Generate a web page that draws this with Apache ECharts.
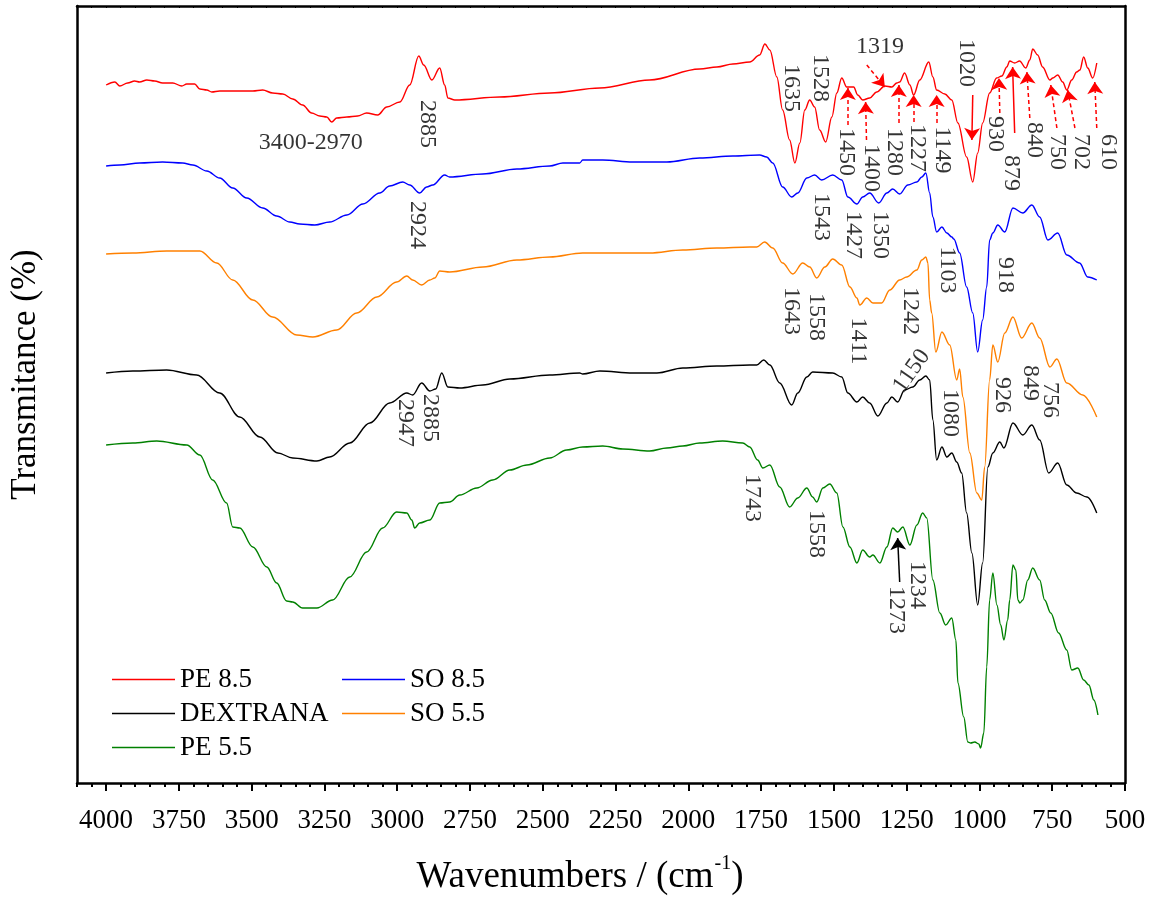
<!DOCTYPE html>
<html>
<head>
<meta charset="utf-8">
<script src="https://cdn.jsdelivr.net/npm/echarts@6/dist/echarts.min.js"></script>
<style>
html,body{margin:0;padding:0;background:#fff;}
#chart{width:1159px;height:897px;}
</style>
</head>
<body>
<div id="chart"></div>
<script>
// FTIR spectra, stacked with vertical offsets: [wavenumber (cm-1), transmittance (a.u.)]
const pe85 = [[4000,69.8],[3970,70.1],[3953,69.7],[3926,70.0],[3902,70.2],[3885,70.1],[3860,70.3],[3833,70.2],[3806,70.0],[3771,70.0],[3740,69.7],[3723,69.9],[3696,69.9],[3678,69.4],[3654,69.3],[3637,69.1],[3610,69.2],[3575,69.2],[3541,69.2],[3496,69.2],[3462,69.3],[3428,69.0],[3393,68.9],[3359,68.4],[3325,67.8],[3294,67.0],[3266,66.7],[3242,66.6],[3225,66.1],[3208,66.5],[3173,66.6],[3136,66.7],[3105,67.0],[3067,66.8],[3036,67.6],[2991,68.1],[2957,69.8],[2926,72.7],[2909,71.8],[2881,70.3],[2854,71.5],[2837,69.8],[2826,68.5],[2802,68.3],[2648,68.6],[2476,69.0],[2304,69.5],[2133,70.3],[1961,71.4],[1902,71.6],[1847,71.9],[1789,72.1],[1755,72.8],[1737,73.9],[1720,73.3],[1696,70.6],[1676,67.3],[1652,64.3],[1634,62.0],[1617,64.0],[1600,67.3],[1583,68.3],[1566,67.6],[1549,65.3],[1528,64.1],[1507,66.6],[1490,69.0],[1473,70.5],[1456,69.6],[1432,69.6],[1418,68.8],[1401,68.3],[1377,68.5],[1353,69.1],[1325,69.7],[1301,69.6],[1284,70.0],[1274,70.1],[1257,71.0],[1239,69.8],[1226,68.8],[1205,70.3],[1174,72.1],[1160,70.6],[1147,69.3],[1119,68.9],[1095,68.3],[1074,66.0],[1044,62.6],[1023,60.1],[1006,63.0],[989,66.0],[965,69.0],[941,70.5],[923,70.7],[906,71.6],[896,72.2],[879,72.0],[862,72.2],[841,71.5],[827,72.3],[817,73.4],[800,72.8],[783,71.6],[758,70.3],[748,70.5],[731,70.8],[714,70.1],[700,69.3],[683,70.3],[666,71.1],[655,71.3],[642,72.6],[628,71.5],[611,70.5],[597,72.0]];

const so85 = [[4000,61.7],[3953,61.8],[3885,62.0],[3806,62.1],[3737,62.0],[3702,61.8],[3654,61.2],[3610,60.5],[3565,59.5],[3517,58.5],[3462,57.5],[3414,56.7],[3369,56.1],[3335,55.9],[3283,55.8],[3232,56.1],[3173,56.8],[3118,57.9],[3060,59.0],[3026,59.7],[2981,60.1],[2957,59.8],[2923,59.0],[2899,59.6],[2878,59.8],[2837,60.8],[2820,60.6],[2706,60.9],[2589,61.4],[2476,61.7],[2431,62.0],[2373,62.0],[2363,62.3],[2294,62.3],[2191,62.1],[2074,62.1],[1961,62.5],[1847,62.7],[1755,62.8],[1731,62.6],[1710,62.0],[1676,59.6],[1645,58.6],[1624,59.0],[1593,60.5],[1566,60.8],[1542,60.3],[1504,60.8],[1473,60.3],[1452,58.6],[1421,57.9],[1401,58.6],[1377,59.0],[1346,58.0],[1318,59.0],[1298,59.4],[1274,58.9],[1246,59.8],[1215,60.1],[1198,60.6],[1184,61.0],[1171,59.0],[1160,56.6],[1147,55.1],[1129,55.6],[1112,55.0],[1095,54.6],[1088,54.4],[1068,53.0],[1044,49.6],[1023,47.0],[1006,43.1],[989,46.3],[975,49.6],[965,54.3],[954,55.0],[937,55.8],[913,55.1],[885,57.5],[851,57.0],[820,57.8],[793,56.6],[765,54.3],[731,55.0],[700,52.8],[656,52.0],[628,50.6],[597,50.3]];

const so55 = [[4000,52.9],[3908,53.0],[3792,53.2],[3678,53.2],[3620,52.0],[3565,50.3],[3496,48.3],[3428,46.6],[3345,44.8],[3290,44.6],[3208,45.3],[3139,47.0],[3070,48.6],[3002,50.1],[2967,50.7],[2947,50.3],[2916,49.8],[2888,50.3],[2871,50.5],[2854,51.2],[2820,51.1],[2706,51.6],[2589,52.3],[2476,52.6],[2363,53.0],[2246,53.0],[2133,53.0],[2019,53.3],[1902,53.5],[1789,53.6],[1765,53.6],[1738,54.1],[1710,53.5],[1676,52.0],[1641,50.9],[1607,52.0],[1583,51.6],[1559,50.5],[1531,51.6],[1504,52.4],[1473,51.8],[1445,49.6],[1421,48.5],[1411,47.8],[1387,48.5],[1366,48.0],[1336,48.0],[1308,49.3],[1274,50.3],[1250,50.6],[1215,51.3],[1198,52.3],[1184,52.6],[1177,52.0],[1171,48.3],[1164,47.0],[1150,43.1],[1129,45.1],[1102,43.8],[1078,40.3],[1068,41.4],[1057,38.6],[1033,33.0],[1009,29.0],[992,28.3],[982,31.6],[965,40.3],[954,43.8],[937,42.1],[913,45.0],[885,46.6],[855,44.5],[820,46.0],[793,44.5],[758,41.6],[734,42.4],[700,40.0],[645,38.8],[597,36.6]];

const dextrana = [[4000,41.0],[3908,41.2],[3792,41.3],[3689,40.8],[3610,39.0],[3541,36.6],[3472,34.6],[3410,33.0],[3359,32.5],[3276,32.2],[3232,32.6],[3163,34.0],[3094,36.0],[3026,38.0],[2967,39.0],[2947,38.8],[2916,40.0],[2888,39.2],[2868,39.4],[2847,41.0],[2826,39.6],[2785,39.5],[2706,39.8],[2613,40.4],[2476,40.8],[2373,41.0],[2363,40.9],[2304,41.2],[2191,41.0],[2108,41.0],[2019,41.5],[1902,41.7],[1789,41.8],[1765,41.8],[1741,42.3],[1720,41.8],[1686,40.0],[1645,37.8],[1624,39.0],[1593,40.6],[1573,41.1],[1504,41.0],[1473,40.6],[1452,39.0],[1421,38.1],[1401,38.6],[1377,38.0],[1349,36.7],[1318,38.0],[1301,38.6],[1281,38.1],[1257,39.3],[1229,39.6],[1205,40.3],[1184,40.7],[1171,40.3],[1160,36.3],[1147,32.3],[1129,33.6],[1112,32.6],[1095,33.0],[1078,32.1],[1061,31.0],[1044,27.0],[1026,23.0],[1006,17.8],[989,22.0],[971,31.6],[954,33.0],[930,34.1],[916,33.5],[885,36.0],[851,34.8],[820,35.8],[793,34.3],[762,31.0],[731,32.0],[700,29.8],[666,29.0],[631,28.6],[597,27.0]];

const pe55 = [[4000,33.8],[3908,34.0],[3826,34.2],[3723,33.8],[3678,32.8],[3634,30.3],[3586,28.0],[3565,25.6],[3541,25.5],[3496,23.6],[3448,21.6],[3414,20.0],[3380,18.2],[3359,18.1],[3325,17.5],[3276,17.5],[3222,18.3],[3163,20.6],[3105,23.1],[3050,25.5],[3002,27.1],[2967,27.0],[2950,26.3],[2940,25.5],[2923,26.0],[2888,26.3],[2854,28.0],[2820,28.1],[2785,28.8],[2727,29.5],[2672,30.3],[2613,31.3],[2555,31.8],[2476,32.5],[2418,33.3],[2363,33.6],[2294,33.7],[2225,33.4],[2133,33.2],[2074,33.5],[2019,33.7],[1961,34.0],[1882,34.2],[1813,34.0],[1789,33.6],[1762,32.3],[1744,31.5],[1720,31.8],[1686,29.6],[1652,27.6],[1624,28.5],[1593,29.5],[1573,28.6],[1559,28.1],[1538,29.5],[1514,29.9],[1490,29.0],[1469,25.6],[1445,23.6],[1421,22.0],[1401,23.3],[1377,22.6],[1366,22.8],[1342,22.0],[1318,23.6],[1298,25.5],[1281,25.1],[1263,25.6],[1239,23.8],[1215,25.8],[1195,27.0],[1181,26.5],[1160,20.3],[1136,17.0],[1116,15.8],[1095,16.5],[1081,14.3],[1074,10.0],[1054,6.6],[1040,4.1],[1030,4.0],[1016,4.1],[1002,3.9],[996,3.5],[985,5.0],[975,11.6],[965,18.3],[954,21.0],[940,17.8],[927,15.8],[916,14.3],[903,16.3],[896,18.3],[885,21.8],[875,21.3],[868,18.3],[861,18.0],[851,18.3],[834,20.3],[817,21.5],[793,20.3],[776,18.3],[755,17.0],[728,15.0],[700,13.3],[683,11.3],[662,11.5],[642,10.3],[624,9.8],[607,8.3],[593,6.8]];

const seriesNames = ['PE 8.5', 'SO 8.5', 'SO 5.5', 'DEXTRANA', 'PE 5.5'];
const seriesColors = ['#ff0000', '#0000ff', '#ff8000', '#000000', '#008000'];
const seriesData = [pe85, so85, so55, dextrana, pe55];

const majorTicks = [4000, 3750, 3500, 3250, 3000, 2750, 2500, 2250, 2000, 1750, 1500, 1250, 1000, 750, 500];

// Band assignments: [wavenumber, level, text, rotation]
const peakLabels = [
  [3297, 64.0, '3400-2970', 0], [2895, 65.9, '2885', -90],
  [1645, 69.5, '1635', -90], [1545, 70.5, '1528', -90], [1342, 73.6, '1319', 0],
  [1456, 63.1, '1450', -90], [1370, 61.5, '1400', -90], [1294, 63.1, '1280', -90],
  [1215, 63.5, '1227', -90], [1129, 63.3, '1149', -90], [1044, 72.0, '1020', -90],
  [944, 64.9, '930', -90], [889, 61.0, '879', -90], [813, 64.3, '840', -90],
  [731, 63.1, '750', -90], [649, 63.1, '702', -90], [556, 63.1, '610', -90],
  [2930, 55.8, '2924', -90], [1542, 56.6, '1543', -90], [1435, 54.8, '1427', -90],
  [1342, 54.8, '1350', -90], [1112, 51.3, '1103', -90], [910, 50.8, '918', -90],
  [1648, 47.2, '1643', -90], [1562, 46.6, '1558', -90], [1415, 44.2, '1411', -90],
  [1236, 47.2, '1242', -90], [1233, 41.2, '1150', 55], [1099, 37.0, '1080', -90],
  [920, 38.8, '926', -90], [827, 40.0, '849', -90], [755, 38.3, '756', -90],
  [2971, 36.0, '2947', -90], [2885, 36.5, '2885', -90],
  [1779, 28.5, '1743', -90], [1559, 24.9, '1558', -90],
  [1215, 19.8, '1234', -90], [1284, 17.3, '1273', -90]
];

// Pointer arrows: [from wn, from level, to wn, to level, colour, dashed]
const peakArrows = [
  [1387, 71.8, 1325, 69.6, '#ff0000', true],
  [1452, 65.8, 1452, 69.5, '#ff0000', true],
  [1388, 64.3, 1391, 68.1, '#ff0000', true],
  [1277, 66.0, 1277, 69.8, '#ff0000', true],
  [1226, 66.1, 1226, 68.8, '#ff0000', true],
  [1147, 66.0, 1147, 68.8, '#ff0000', true],
  [1023, 68.8, 1026, 64.3, '#ff0000', false],
  [930, 67.0, 933, 70.5, '#ff0000', true],
  [879, 65.0, 886, 71.6, '#ff0000', false],
  [827, 66.5, 837, 71.1, '#ff0000', true],
  [734, 65.5, 755, 69.8, '#ff0000', true],
  [672, 65.5, 697, 69.3, '#ff0000', true],
  [597, 65.5, 604, 70.1, '#ff0000', true],
  [1274, 20.1, 1281, 24.5, '#000000', false]
];

const FONT = "'Liberation Serif', 'Times New Roman', serif";
const AXIS_COLOR = '#000';

const chart = echarts.init(document.getElementById('chart'), null, { renderer: 'canvas' });

const spectra = seriesData.map((d, i) => ({
  name: seriesNames[i],
  type: 'line',
  data: d,
  xAxisIndex: 0,
  yAxisIndex: 0,
  symbol: 'none',
  smooth: 0.35,
  smoothMonotone: 'x',
  lineStyle: { color: seriesColors[i], width: 1.4 },
  itemStyle: { color: seriesColors[i] },
  z: 3
}));

const labelSeries = {
  type: 'scatter',
  silent: true,
  symbolSize: 1,
  itemStyle: { color: 'transparent' },
  data: peakLabels.map(([x, y, t, r]) => ({ value: [x, y], name: t, label: { rotate: r } })),
  label: {
    show: true,
    position: 'inside',
    formatter: '{b}',
    fontFamily: FONT,
    fontSize: 24,
    color: '#000'
  },
  z: 5
};

const arrowSeries = {
  type: 'line',
  data: [],
  silent: true,
  markLine: {
    silent: true,
    animation: false,
    symbol: ['none', 'arrow'],
    symbolSize: 12,
    label: { show: false },
    data: peakArrows.map(([x1, y1, x2, y2, c, dashed]) => {
      const ls = { color: c, width: 1.5, type: dashed ? [4, 3] : 'solid' };
      return [{ coord: [x1, y1], lineStyle: ls }, { coord: [x2, y2], lineStyle: ls }];
    })
  }
};

const legendText = { fontFamily: FONT, fontSize: 27, color: '#000', lineHeight: 27 };
const legendCommon = {
  orient: 'vertical', top: 666, padding: 0,
  icon: 'rect', itemWidth: 63, itemHeight: 1.6, itemGap: 7,
  selectedMode: false, textStyle: legendText
};

chart.setOption({
  animation: false,
  backgroundColor: '#fff',
  grid: { left: 77, right: 34, top: 6, bottom: 114, outerBoundsMode: 'none', containLabel: false },
  legend: [
    Object.assign({ data: ['PE 8.5', 'DEXTRANA', 'PE 5.5'], left: 112 }, legendCommon),
    Object.assign({ data: ['SO 8.5', 'SO 5.5'], left: 342 }, legendCommon)
  ],
  xAxis: [
    {
      type: 'value', min: 500, max: 4100, inverse: true, interval: 50, position: 'bottom',
      axisLine: { show: true, onZero: false, lineStyle: { color: AXIS_COLOR, width: 2.5 } },
      axisTick: { show: true, length: 4, lineStyle: { color: AXIS_COLOR, width: 2 } },
      axisLabel: { show: false },
      splitLine: { show: false }
    },
    {
      type: 'value', min: 500, max: 4100, inverse: true, position: 'bottom',
      axisLine: { show: false, onZero: false },
      axisTick: { show: true, length: 8, customValues: majorTicks, lineStyle: { color: AXIS_COLOR, width: 2 } },
      axisLabel: {
        show: true, customValues: majorTicks, formatter: v => String(v),
        fontFamily: FONT, fontSize: 27, color: '#000', margin: 24
      },
      splitLine: { show: false },
      name: '{m|Wavenumbers / (cm}{s|-1}{m|)}',
      nameLocation: 'middle',
      nameGap: 71,
      nameTextStyle: {
        padding: [0, 42, 0, 0],
        rich: {
          m: { fontFamily: FONT, fontSize: 37, color: '#000', lineHeight: 42, verticalAlign: 'bottom' },
          s: { fontFamily: FONT, fontSize: 20, color: '#000', lineHeight: 42, verticalAlign: 'top', padding: [0, 0, 0, 1] }
        }
      }
    },
    {
      type: 'value', min: 500, max: 4100, inverse: true, interval: 50, position: 'top',
      axisLine: { show: true, onZero: false, lineStyle: { color: AXIS_COLOR, width: 2.5 } },
      axisTick: { show: true, inside: true, length: 2, lineStyle: { color: AXIS_COLOR, width: 1 } },
      axisLabel: { show: false },
      splitLine: { show: false }
    }
  ],
  yAxis: [
    {
      type: 'value', min: 0, max: 77.7, position: 'left',
      axisLine: { show: true, onZero: false, lineStyle: { color: AXIS_COLOR, width: 2.5 } },
      axisTick: { show: false }, axisLabel: { show: false }, splitLine: { show: false },
      name: 'Transmitance (%)',
      nameLocation: 'middle',
      nameRotate: 90,
      nameGap: 34,
      nameTextStyle: { fontFamily: FONT, fontSize: 35, color: '#000', padding: [0, 0, 0, 40] }
    },
    {
      type: 'value', min: 0, max: 77.7, position: 'right',
      axisLine: { show: true, onZero: false, lineStyle: { color: AXIS_COLOR, width: 2.5 } },
      axisTick: { show: false }, axisLabel: { show: false }, splitLine: { show: false }
    }
  ],
  series: [...spectra, arrowSeries, labelSeries]
});
</script>
</body>
</html>
